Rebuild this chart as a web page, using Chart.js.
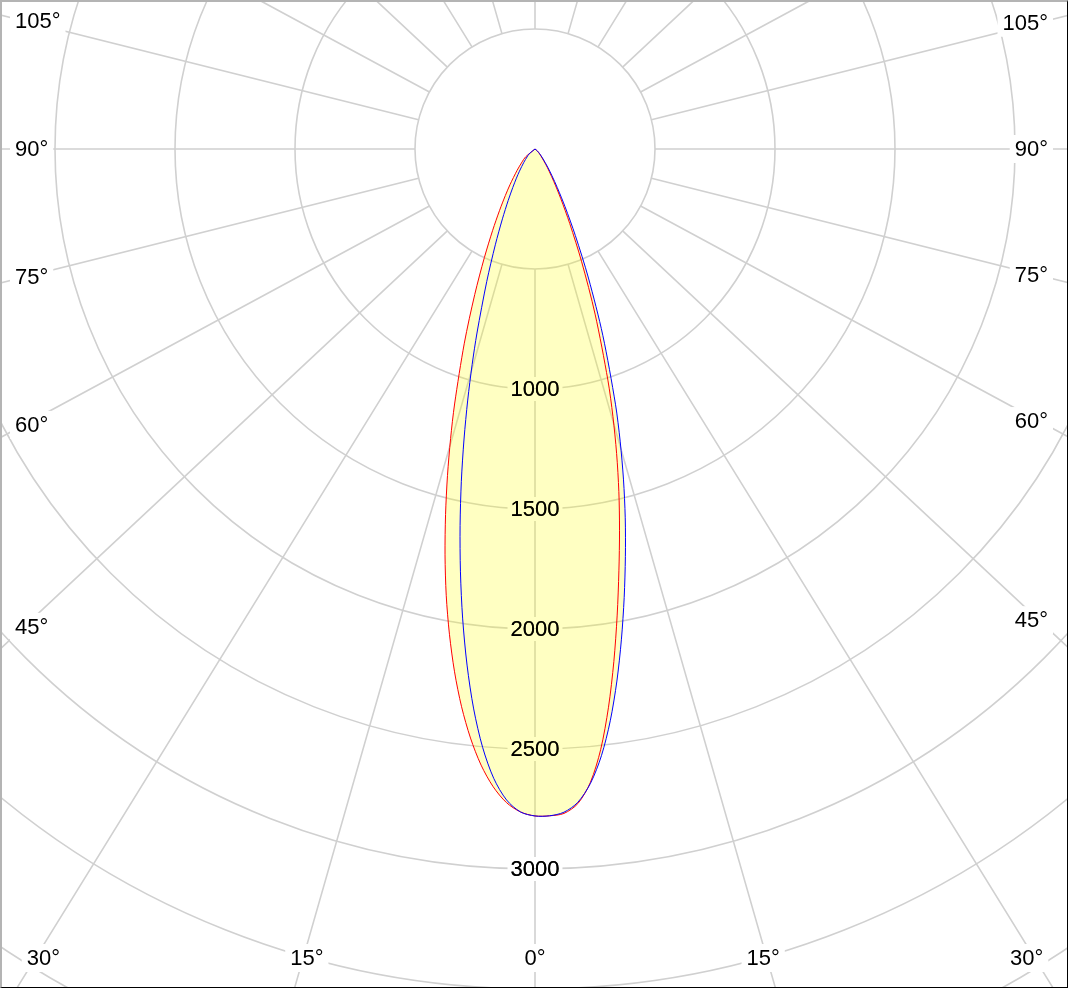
<!DOCTYPE html>
<html>
<head>
<meta charset="utf-8">
<title>Light distribution curve</title>
<script src="https://cdn.jsdelivr.net/npm/chart.js@4/dist/chart.umd.min.js"></script>
<style>
  html, body { margin: 0; padding: 0; background: #fff; }
  #frame {
    position: relative;
    width: 1068px;
    height: 988px;
    overflow: hidden;
    box-sizing: border-box;
    border-top: 2px solid #b4b4b4;
    border-left: 2px solid #b4b4b4;
    border-right: 1px solid #000;
    border-bottom: 1px solid #000;
  }
  #polar { position: absolute; }
</style>
</head>
<body>
<div id="frame"><canvas id="polar" width="2160" height="2160"></canvas></div>
<script>

// gamma angles (deg away from nadir) where the curves were read
var gammas = [0, 1.25, 2.5, 3.75, 5, 6.25, 7.5, 8.75, 10, 11.25, 12.5, 13.75, 15, 16.25, 17.5,
              20, 22.5, 25, 27.5, 30, 32.5, 35, 40, 45, 50, 60];

// C0 - C180 plane (red), cd
var redLeft   = [2779, 2763, 2726, 2663, 2577, 2469, 2344, 2204, 2053, 1896, 1732, 1568, 1409, 1257, 1114,
                 861, 656, 499, 382, 295, 230, 182, 116, 76, 51, 0];
var redRight  = [2779, 2779, 2771, 2733, 2649, 2516, 2346, 2160, 1972, 1792, 1627, 1470, 1314, 1160, 1010,
                 732, 506, 342, 231, 158, 110, 78, 40, 22, 12, 0];

// C90 - C270 plane (blue), cd
var blueLeft  = [2779, 2763, 2715, 2628, 2503, 2347, 2169, 1981, 1789, 1600, 1418, 1244, 1083, 936, 804,
                 588, 432, 321, 242, 185, 144, 113, 72, 47, 32, 0];
var blueRight = [2779, 2779, 2766, 2728, 2653, 2543, 2403, 2243, 2074, 1905, 1740, 1582, 1424, 1268, 1115,
                 826, 582, 398, 271, 186, 130, 92, 48, 26, 14, 0];

// tick labels
var ringLabels  = [1000, 1500, 2000, 2500, 3000];
var angleLabels = [0, 15, 30, 45, 60, 75, 90, 105];

var STEP = 1.25;         // radar spoke spacing, deg
var N = 360 / STEP;
var R_MAX = 4500;
var R_STEP = 500;
var HOLE = 500;          // spokes start on this ring

var CENTER_X = 535, CENTER_Y = 149;   // where the pole sits in the frame
var BORDER = 2;
var SKEW = 0.935;        // spokes are drawn a bit flattened, like the original
var LABEL_SKEW = 0.95;
var GRID = '#d0d0d0';
var FILL = 'rgba(255, 255, 0, 0.24)';
var FONT = '22px Arial, "Liberation Sans", sans-serif';

// spokes go clockwise from nadir: left half first, then right half back to nadir.
// spokes with no reading stay null and the line spans over them
function planeSeries(left, right) {
    var out = [];
    for (var k = 0; k < N; k++) {
        out.push(null);
    }
    for (var j = 0; j < gammas.length; j++) {
        var k = Math.round(gammas[j] / STEP);
        out[k] = left[j];
        if (k > 0) {
            out[N - k] = right[j];
        }
    }
    return out;
}

var spokes = [];
for (var i = 0; i < N; i++) {
    spokes.push(String(i * STEP));
}

function backdrop(ctx, x, y, w, h) {
    ctx.fillStyle = '#fff';
    ctx.fillRect(x, y, w, h);
}

function drawRingText(chart, withBackdrop) {
    var s = chart.scales.r;
    var ctx = chart.ctx;
    ctx.save();
    ctx.font = FONT;
    ctx.textAlign = 'center';
    ctx.textBaseline = 'middle';
    ringLabels.forEach(function (v) {
        var y = s.yCenter + s.getDistanceFromCenterForValue(v);
        var txt = String(v);
        var w = ctx.measureText(txt).width;
        if (withBackdrop) {
            backdrop(ctx, s.xCenter - w / 2 - 3, y - 12, w + 6, 24);
        }
        ctx.fillStyle = '#000';
        ctx.fillText(txt, s.xCenter, y + 1);
    });
    ctx.restore();
}

var polarDecor = {
    id: 'polarDecor',
    beforeDatasetsDraw: function (chart) {
        var s = chart.scales.r;
        var ctx = chart.ctx;
        var cx = s.xCenter, cy = s.yCenter;
        var r0 = s.getDistanceFromCenterForValue(HOLE);
        var rEnd = s.getDistanceFromCenterForValue(R_MAX) * 1.6;
        // page -> canvas shift
        var ox = cx - CENTER_X, oy = cy - CENTER_Y;

        // spokes every 15 deg, starting on the 500 ring
        ctx.save();
        ctx.strokeStyle = GRID;
        ctx.lineWidth = 1.6;
        ctx.beginPath();
        for (var a = 0; a < 360; a += 15) {
            var rad = a * Math.PI / 180;
            var ux = -Math.sin(rad), uy = SKEW * Math.cos(rad);
            var len = Math.sqrt(ux * ux + uy * uy);
            ux /= len; uy /= len;
            ctx.moveTo(cx + ux * r0, cy + uy * r0);
            ctx.lineTo(cx + ux * rEnd, cy + uy * rEnd);
        }
        ctx.stroke();
        ctx.restore();

        // angle labels near where the spokes leave the frame
        ctx.save();
        ctx.font = FONT;
        ctx.textBaseline = 'middle';
        angleLabels.forEach(function (a) {
            var sides = a === 0 ? [1] : [-1, 1];
            sides.forEach(function (side) {
                var rad = a * Math.PI / 180;
                var ux = side * Math.sin(rad), uy = LABEL_SKEW * Math.cos(rad);
                var tx = Infinity, ty = Infinity;
                if (ux !== 0) tx = ((side < 0 ? 32 : 1031) - CENTER_X) / ux;
                if (uy > 0) ty = (958 - CENTER_Y) / uy;
                var txt = a + '\u00b0';
                var w = ctx.measureText(txt).width;
                var y, left;
                if (ty < tx) {
                    y = 958;
                    left = CENTER_X + ty * ux - w / 2;
                } else {
                    y = CENTER_Y + tx * uy;
                    left = side < 0 ? 15 : 1048 - w;
                }
                backdrop(ctx, left + ox - 5, y + oy - 14, w + 10, 28);
                ctx.fillStyle = '#000';
                ctx.textAlign = 'left';
                ctx.fillText(txt, left + ox, y + oy + 1);
            });
        });
        ctx.restore();

        drawRingText(chart, true);

        // one fill for both planes so the overlap is not doubled
        ctx.save();
        ctx.beginPath();
        chart.data.datasets.forEach(function (ds, i) {
            var line = chart.getDatasetMeta(i).dataset;
            line.updateControlPoints(chart.chartArea);
            line.path(ctx);
            ctx.closePath();
        });
        ctx.fillStyle = FILL;
        ctx.fill();
        ctx.restore();
    },
    afterDatasetsDraw: function (chart) {
        drawRingText(chart, false);
    }
};

var el = document.getElementById('polar');

var config = {
    type: 'radar',
    data: {
        labels: spokes,
        datasets: [
            {
                label: 'C0 - C180',
                data: planeSeries(redLeft, redRight),
                borderColor: 'rgb(255, 0, 0)',
                fill: false,
                spanGaps: true,
                order: 2
            },
            {
                label: 'C90 - C270',
                data: planeSeries(blueLeft, blueRight),
                borderColor: 'rgb(0, 0, 255)',
                fill: false,
                spanGaps: true,
                order: 1
            }
        ]
    },
    options: {
        responsive: false,
        animation: false,
        events: [],
        layout: { padding: 0 },
        elements: {
            line: { borderWidth: 1, tension: 0.3 },
            point: { radius: 0, hitRadius: 0, hoverRadius: 0 }
        },
        plugins: {
            legend: { display: false },
            tooltip: { enabled: false }
        },
        scales: {
            r: {
                min: 0,
                max: R_MAX,
                startAngle: 180,
                angleLines: { display: false },
                pointLabels: { display: false },
                ticks: { display: false, stepSize: R_STEP },
                grid: { circular: true, color: GRID, lineWidth: 1.6 }
            }
        }
    },
    plugins: [polarDecor]
};

var chart = new Chart(el, config);

// put the pole where it sits in the original
var r = chart.scales.r;
el.style.left = (CENTER_X - BORDER - r.xCenter) + 'px';
el.style.top = (CENTER_Y - BORDER - r.yCenter) + 'px';
</script>
</body>
</html>
